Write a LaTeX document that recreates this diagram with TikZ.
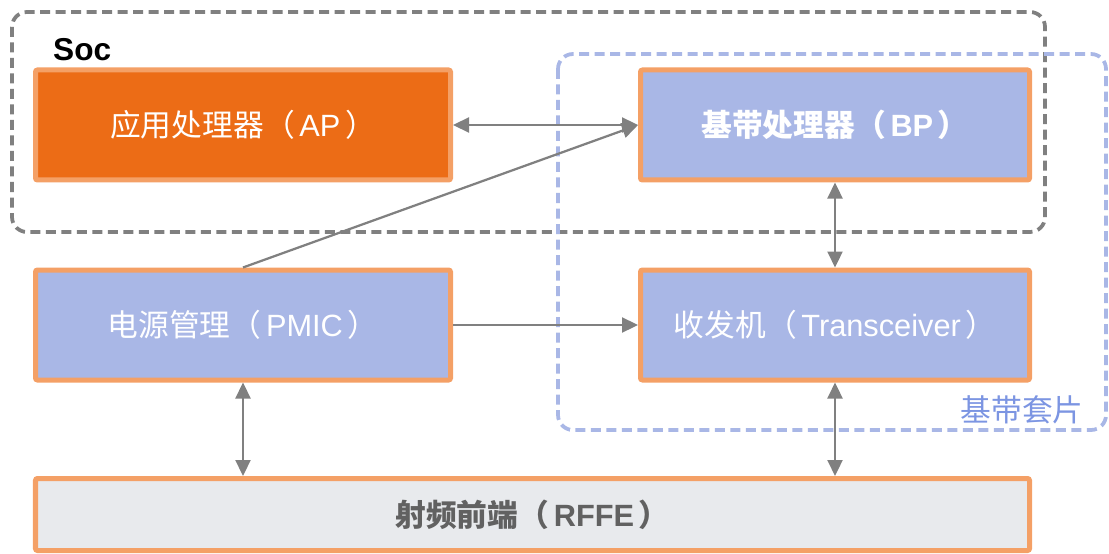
\documentclass[tikz,border=0pt]{standalone}
\usepackage{fontspec}
\setmainfont{Liberation Sans}
\newfontfamily\cjk{Noto Sans CJK SC}
\usetikzlibrary{arrows.meta}
\definecolor{apfill}{HTML}{EC6C16}
\definecolor{boxline}{HTML}{F4A066}
\definecolor{bpfill}{HTML}{A9B7E6}
\definecolor{rffill}{HTML}{E8EAED}
\definecolor{linkgray}{HTML}{808080}
\definecolor{kitblue}{HTML}{7C95E2}
\def\zh#1{{\cjk #1}}
\def\lp{\zh{（}\hspace{0.15em}}
\def\rp{\hspace{0.15em}\zh{）}}
\tikzset{
	unit/.style={draw=boxline, line width=1mm, rounded corners=0.4mm, minimum height=2.2cm, text=white, font=\fontsize{17.5}{20}\selectfont},
	link/.style={draw=linkgray, line width=0.45mm, -{Triangle[length=3.2mm,width=3mm]}},
	both/.style={draw=linkgray, line width=0.45mm, {Triangle[length=3.2mm,width=3mm]}-{Triangle[length=3.2mm,width=3mm]}},
	group/.style={line width=0.75mm, rounded corners=3mm, dash pattern=on 2mm off 1.1mm}
}

\begin{document}
\begin{tikzpicture}
			%%%%% START %%%%%
			\useasboundingbox (0, 0) rectangle (22.18, -11.06);
			
			\draw[group, draw=linkgray] (0.24, -0.24) rectangle (20.9, -4.64);
			\node[anchor=west, font=\bfseries\fontsize{18}{20}\selectfont] (soc) at (0.94, -1.0) {Soc};
			
			\draw[group, draw=bpfill] (11.16, -1.08) rectangle (22.12, -8.6);
			\node[text=kitblue, font=\fontsize{17.5}{20}\selectfont] (kit) at (20.44, -8.2) {\zh{基带套片}};
			
			\node[unit, fill=apfill, minimum width=8.3cm] (ap) at (4.86, -2.5) {\zh{应用处理器}\lp AP\rp};
			\node[unit, fill=bpfill, minimum width=7.78cm, font=\bfseries\fontsize{17.5}{20}\selectfont] (bp) at (16.7, -2.5) {\zh{基带处理器}\lp BP\rp};
			
			\node[unit, fill=bpfill, minimum width=8.3cm] (pmic) at (4.86, -6.5) {\zh{电源管理}\lp PMIC\rp};
			\node[unit, fill=bpfill, minimum width=7.78cm] (trx) at (16.7, -6.5) {\zh{收发机}\lp Transceiver\rp};
			
			\node[unit, fill=rffill, minimum width=19.88cm, minimum height=1.44cm, text=black!62, font=\bfseries\fontsize{17.5}{20}\selectfont] (rffe) at (10.65, -10.29) {\zh{射频前端}\lp RFFE\rp};
			
			\draw[both] (ap.east) -- (bp.west);
			\draw[link] (pmic.north) -- (bp.west);
			\draw[both] (bp.south) -- (trx.north);
			\draw[link] (pmic.east) -- (trx.west);
			\draw[both] (pmic.south) -- (pmic.south |- rffe.north);
			\draw[both] (trx.south) -- (trx.south |- rffe.north);
			
			%%%%% END %%%%%
\end{tikzpicture}
\end{document}
